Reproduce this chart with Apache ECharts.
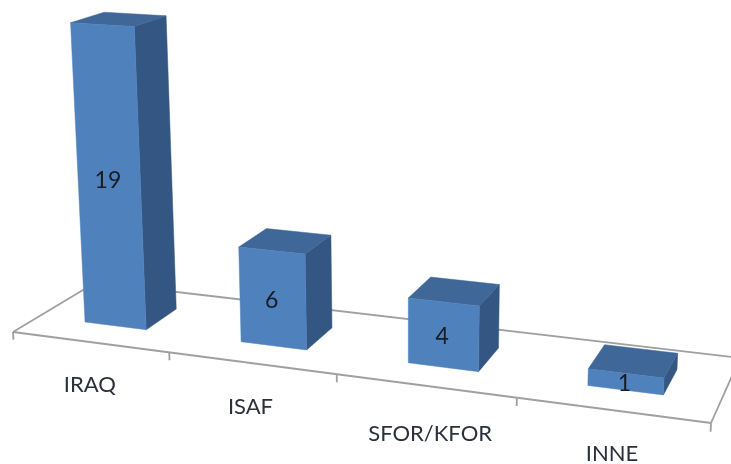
<!DOCTYPE html>
<html>
<head>
<meta charset="utf-8">
<style>html,body{margin:0;padding:0;background:#fff}#chart{width:731px;height:464px}</style>
<script src="https://cdn.jsdelivr.net/npm/echarts@6/dist/echarts.min.js"></script>
</head>
<body>
<div id="chart"></div>
<script>
// Mission headcount per category
const categories = ['IRAQ', 'ISAF', 'SFOR/KFOR', 'INNE'];
const values = [19, 6, 4, 1];
const valueMax = 20;

// Camera of the 3D scene: the floor's four corners on screen, the point
// where uprights converge, and the foreshortening per value unit.
const floorFrontLeft = [13, 332];
const floorFrontRight = [711, 423];
const floorBackRight = [740, 358];
const floorBackLeft = [95.5, 282.5];
const uprightVanish = [408, 7000];
const uprightFalloff = -0.002295;

// Bar footprint as fractions of the category band and of the floor depth
const barInset = 0.3;
const barShift = 0.0065;
const depthFront = 0.3;
const depthBack = 0.7;

// Category captions sit below the axis; the long one needs extra clearance
const captionDrop = 44;
const captionNudge = [[0, -1], [-1, 0], [5, 4], [0, 0]];

const FRONT = '#4f81bd';
const TOP = '#3f6797';
const SIDE = '#335682';
const AXIS = '#a0a0a0';
const INK = '#181c26';
const FONT = 'Lato, "Open Sans", sans-serif';

// Unit-square to quadrilateral homography, extended with a height column
function buildCamera() {
  const [x0, y0] = floorFrontLeft, [x1, y1] = floorFrontRight;
  const [x2, y2] = floorBackRight, [x3, y3] = floorBackLeft;
  const dx1 = x1 - x2, dx2 = x3 - x2, sx = x0 - x1 + x2 - x3;
  const dy1 = y1 - y2, dy2 = y3 - y2, sy = y0 - y1 + y2 - y3;
  const det = dx1 * dy2 - dy1 * dx2;
  const g = (sx * dy2 - sy * dx2) / det;
  const h = (dx1 * sy - dy1 * sx) / det;
  return {
    ax: x1 - x0 + g * x1, bx: x3 - x0 + h * x3, cx: x0,
    ay: y1 - y0 + g * y1, by: y3 - y0 + h * y3, cy: y0,
    g, h
  };
}
const cam = buildCamera();

// u: 0..1 along the category axis, d: 0..1 front to back, v: height in value units
function project(u, d, v) {
  const r = uprightFalloff * v;
  const w = cam.g * u + cam.h * d + 1 + r;
  return [
    (cam.ax * u + cam.bx * d + cam.cx + uprightVanish[0] * r) / w,
    (cam.ay * u + cam.by * d + cam.cy + uprightVanish[1] * r) / w
  ];
}

// Reads the grid's scales back into scene coordinates
function sceneOf(params, api) {
  const cs = params.coordSys;
  return {
    u: (x) => (x - cs.x) / cs.width,
    v: (y) => (cs.y + cs.height - y) / cs.height * valueMax,
    band: api.size([1, 0])[0] / cs.width
  };
}

function line(a, b) {
  return {
    type: 'line',
    shape: { x1: a[0], y1: a[1], x2: b[0], y2: b[1] },
    style: { stroke: AXIS, lineWidth: 1.8 },
    silent: true
  };
}

function renderFloor(params, api) {
  const fl = project(0, 0, 0), fr = project(1, 0, 0);
  const br = project(1, 1, 0), bl = project(0, 1, 0);
  const children = [line(fl, fr), line(fr, br), line(br, bl), line(bl, fl)];
  const band = 1 / categories.length;
  for (let i = 0; i <= categories.length; i++) {
    children.push(line(project(i * band, 0, 0), project(i * band, 0, -0.5)));
  }
  return { type: 'group', children };
}

function poly(points, fill) {
  return {
    type: 'polygon',
    shape: { points },
    style: { fill, stroke: fill, lineWidth: 0.5 },
    silent: true
  };
}

function renderBar(params, api) {
  const s = sceneOf(params, api);
  const index = api.value(0);
  const anchor = api.coord([index, api.value(1)]);
  const uc = s.u(anchor[0]);
  const top = s.v(anchor[1]);
  const half = s.band * (0.5 - barInset);
  const ul = uc - half + s.band * barShift, ur = uc + half + s.band * barShift;

  const side = [project(ur, depthFront, 0), project(ur, depthBack, 0), project(ur, depthBack, top), project(ur, depthFront, top)];
  const lid = [project(ul, depthFront, top), project(ur, depthFront, top), project(ur, depthBack, top), project(ul, depthBack, top)];
  const front = [project(ul, depthFront, 0), project(ur, depthFront, 0), project(ur, depthFront, top), project(ul, depthFront, top)];

  const mid = project(uc, depthFront, top / 2);
  const foot = project(uc, 0, 0);
  const nudge = captionNudge[index];

  return {
    type: 'group',
    children: [
      poly(side, SIDE),
      poly(lid, TOP),
      poly(front, FRONT),
      {
        type: 'text',
        x: mid[0], y: mid[1] + 2,
        style: { text: String(api.value(1)), fill: INK, font: '23px ' + FONT, textAlign: 'center', textVerticalAlign: 'middle' },
        silent: true
      },
      {
        type: 'text',
        x: foot[0] + nudge[0], y: foot[1] + captionDrop + nudge[1],
        style: { text: categories[index], fill: '#2b303a', font: '22px ' + FONT, textAlign: 'center', textVerticalAlign: 'middle' },
        silent: true
      }
    ]
  };
}

const chart = echarts.init(document.getElementById('chart'), null, { renderer: 'canvas' });
chart.setOption({
  animation: false,
  backgroundColor: '#ffffff',
  grid: { left: 0, right: 0, top: 0, bottom: 0 },
  xAxis: { type: 'category', data: categories, show: false },
  yAxis: { type: 'value', min: 0, max: valueMax, show: false },
  series: [
    { type: 'custom', coordinateSystem: 'cartesian2d', clip: false, z: 1, data: [[0, 0]], renderItem: renderFloor },
    {
      type: 'custom',
      coordinateSystem: 'cartesian2d',
      clip: false,
      z: 2,
      encode: { x: 0, y: 1 },
      data: values.map((v, i) => [i, v]),
      renderItem: renderBar
    }
  ]
});
</script>
</body>
</html>
